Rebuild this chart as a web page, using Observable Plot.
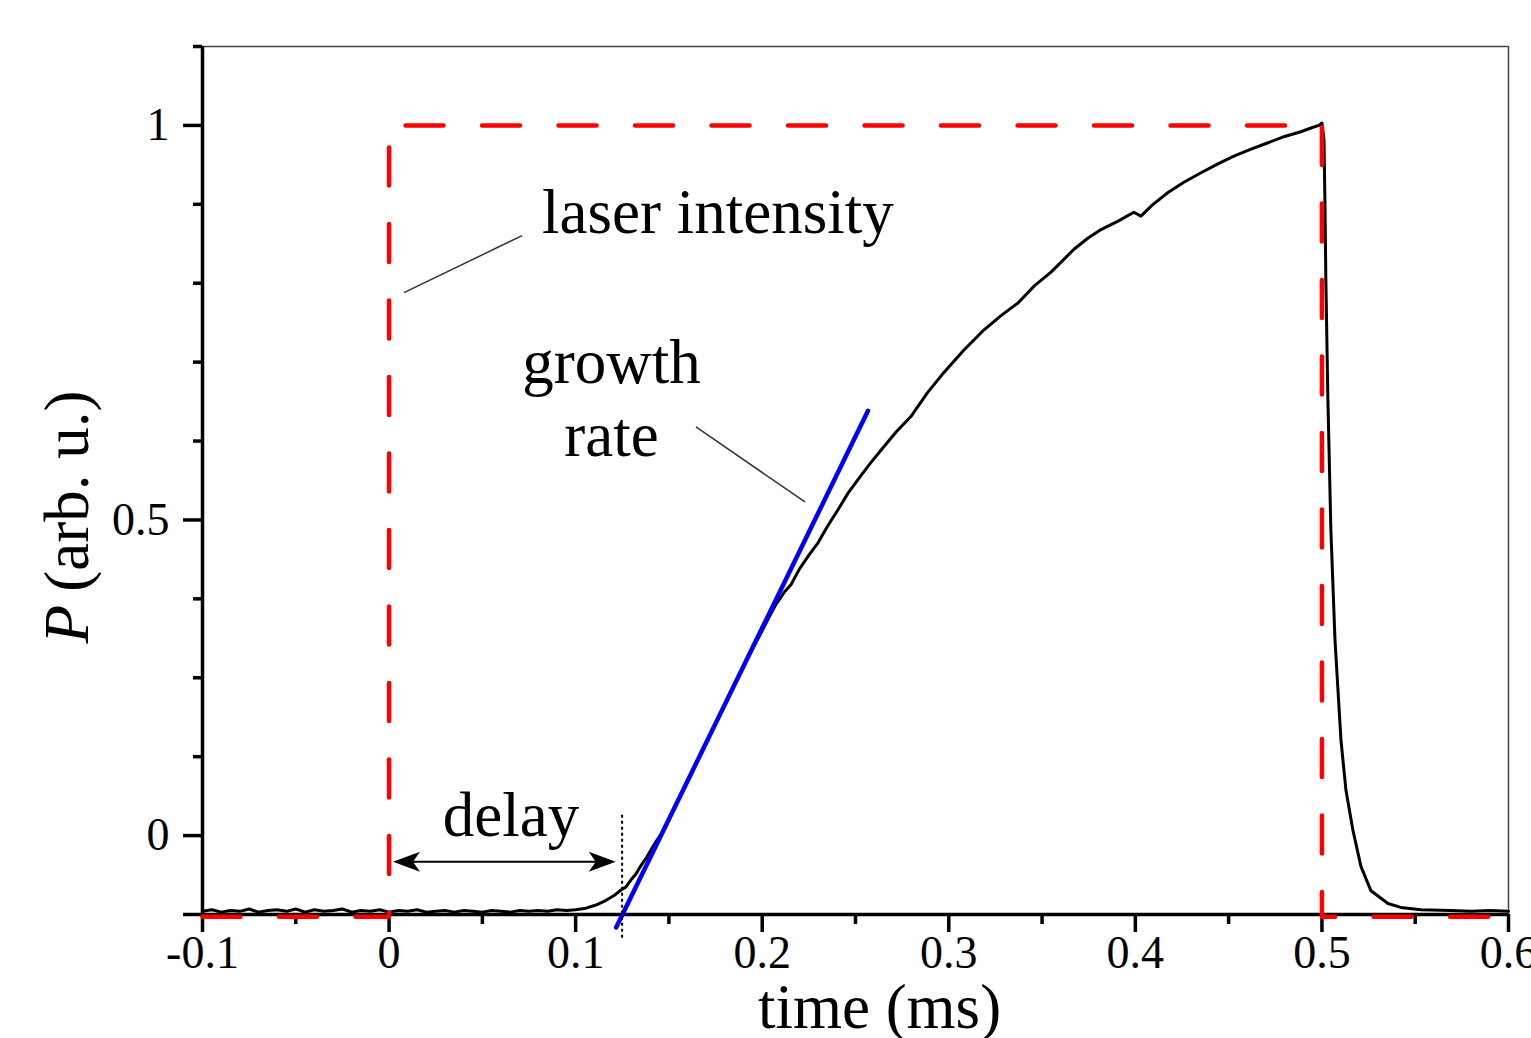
<!DOCTYPE html>
<html><head><meta charset="utf-8">
<script src="https://cdn.jsdelivr.net/npm/d3@7"></script>
<script src="https://cdn.jsdelivr.net/npm/@observablehq/plot@0.6"></script>
<style>body{margin:0;background:#fff;overflow:hidden}</style>
</head><body><div id="chart"></div>
<script>
// ---- data ----
const timeMs = [
  -0.100,-0.095,-0.090,-0.085,-0.080,-0.075,-0.070,-0.065,-0.060,-0.055,
  -0.050,-0.045,-0.040,-0.035,-0.030,-0.025,-0.020,-0.015,-0.010,-0.005,
   0.000, 0.005, 0.010, 0.015, 0.020, 0.025, 0.030, 0.035, 0.040, 0.045,
   0.050, 0.055, 0.060, 0.065, 0.070, 0.075, 0.080, 0.085, 0.090, 0.095,
   0.100, 0.1056,0.1109,0.1163,0.1206,0.1243,0.1270,0.1297,0.1325,0.1350,
   0.1377,0.1404,0.1430,0.1458,0.1510,0.1565,0.1620,0.1672,0.1730,0.1779,
   0.1830,0.1886,0.1940,0.1994,0.2035,0.2074,0.2120,0.2154,0.2200,0.2252,
   0.2299,0.2350,0.2406,0.2460,0.2513,0.2580,0.2653,0.2720,0.2797,0.2885,
   0.2974,0.3080,0.3189,0.3280,0.3371,0.3460,0.3548,0.3671,0.3745,0.3816,
   0.3910,0.3992,0.4030,0.4090,0.4175,0.4260,0.4352,0.4440,0.4528,0.4620,
   0.4711,0.4800,0.4887,0.4945,0.4984,0.5000,0.5011,0.5016,0.5021,0.5032,
   0.5048,0.5070,0.5102,0.5129,0.5166,0.5209,0.5263,0.5354,0.5423,0.5531,
   0.5691,0.5800,0.5900,0.6000
];
const signal = [
  0.004,0.006,0.003,0.005,0.004,0.007,0.003,0.005,0.006,0.004,
  0.007,0.003,0.006,0.004,0.005,0.007,0.003,0.005,0.004,0.006,
  0.003,0.005,0.004,0.006,0.003,0.004,0.005,0.003,0.005,0.004,
  0.003,0.005,0.004,0.003,0.005,0.004,0.005,0.004,0.006,0.005,
  0.006,0.008,0.012,0.018,0.024,0.031,0.035,0.044,0.052,0.062,
  0.071,0.082,0.092,0.102,0.126,0.153,0.178,0.205,0.232,0.256,
  0.281,0.307,0.333,0.357,0.376,0.393,0.409,0.418,0.438,0.456,
  0.471,0.492,0.513,0.534,0.551,0.572,0.593,0.612,0.631,0.661,
  0.687,0.715,0.741,0.759,0.775,0.797,0.814,0.843,0.857,0.868,
  0.879,0.890,0.885,0.899,0.915,0.928,0.940,0.951,0.961,0.970,
  0.978,0.986,0.992,0.997,1.000,1.003,0.982,0.906,0.805,0.652,
  0.487,0.348,0.221,0.157,0.107,0.061,0.030,0.014,0.009,0.006,
  0.005,0.004,0.005,0.004
];
const laserTime = [-0.1, 0, 0, 0.5, 0.5, 0.6];
const laserLevel = [-0.003, -0.003, 1, 1, -0.003, -0.003];
const fitTime = [0.1217, 0.2567];
const fitLevel = [-0.0165, 0.6383];
const delayEnd = 0.1249;

const xMajor = [-0.1, 0, 0.1, 0.2, 0.3, 0.4, 0.5, 0.6];
const xLabels = ["-0.1", "0", "0.1", "0.2", "0.3", "0.4", "0.5", "0.6"];
const xMinor = [-0.05, 0.05, 0.15, 0.25, 0.35, 0.45, 0.55];
const yMajor = [0, 0.1, 0.5, 1];
const yLabels = ["", "0", "0.5", "1"];
const yMinor = [0.2, 0.3, 0.4, 0.6, 0.7, 0.8, 0.9, 1.1];

// ---- tables for the library ----
const trace = timeMs.map((t, i) => ({t, p: signal[i]}));
const laser = laserTime.map((t, i) => ({t, p: laserLevel[i]}));
const fit = fitTime.map((t, i) => ({t, p: fitLevel[i]}));

const stealthRight = {draw(c) { c.moveTo(0, 0); c.lineTo(-27, -10); c.lineTo(-20, 0); c.lineTo(-27, 10); c.closePath(); }};
const stealthLeft  = {draw(c) { c.moveTo(0, 0); c.lineTo(27, -10); c.lineTo(20, 0); c.lineTo(27, 10); c.closePath(); }};

const serif = "Liberation Serif, Times New Roman, serif";
const big = 63;

const chart = Plot.plot({
  width: 1531,
  height: 1038,
  marginLeft: 202,
  marginRight: 23,
  marginTop: 46,
  marginBottom: 124,
  style: {fontFamily: serif, fontSize: "46px", color: "black", background: "white"},
  x: {domain: [-0.1, 0.6]},
  y: {domain: [0, 1.1]},
  marks: [
    // frame
    Plot.ruleY([1.1], {stroke: "#444", strokeWidth: 1.5}),
    Plot.ruleX([0.6], {stroke: "#444", strokeWidth: 1.5}),
    // axes
    Plot.axisX({ticks: xMajor, tickSize: 18, tickPadding: 3, strokeWidth: 3.5, fontSize: 46,
      tickFormat: d => xLabels[xMajor.indexOf(d)], label: null}),
    Plot.axisX({ticks: xMinor, tickSize: 10, strokeWidth: 3.5, tickFormat: () => "", label: null}),
    Plot.axisY({ticks: yMajor, tickSize: 19, tickPadding: 14, strokeWidth: 3.5, fontSize: 46,
      tickFormat: d => yLabels[yMajor.indexOf(d)], label: null}),
    Plot.axisY({ticks: yMinor, tickSize: 9, strokeWidth: 3.5, tickFormat: () => "", label: null}),
    Plot.ruleX([-0.1], {strokeWidth: 3.5}),
    Plot.ruleY([0], {strokeWidth: 3.5}),
    // signal
    Plot.line(trace, {x: "t", y: "p", stroke: "black", strokeWidth: 3, strokeLinejoin: "round"}),
    // laser pulse
    Plot.line(laser, {x: "t", y: "p", stroke: "#ff0000", strokeWidth: 4.5, strokeDasharray: "38,38.5"}),
    // growth-rate fit
    Plot.line(fit, {x: "t", y: "p", stroke: "#0000ff", strokeWidth: 4.5}),
    // delay marker
    Plot.ruleX([delayEnd], {y1: -0.030, y2: 0.128, stroke: "black", strokeWidth: 2, strokeDasharray: "3,3"}),
    Plot.ruleY([0.067], {x1: 0.006, x2: 0.117, stroke: "black", strokeWidth: 2}),
    Plot.dot([{t: 0.1215, p: 0.067}], {x: "t", y: "p", symbol: stealthRight, fill: "black", stroke: null}),
    Plot.dot([{t: 0.0021, p: 0.067}], {x: "t", y: "p", symbol: stealthLeft, fill: "black", stroke: null}),
    // leader lines
    Plot.link([{x1: 0.0713, y1: 0.8604, x2: 0.0080, y2: 0.7880}], {x1: "x1", y1: "y1", x2: "x2", y2: "y2", stroke: "#333", strokeWidth: 1.5}),
    Plot.link([{x1: 0.1645, y1: 0.6180, x2: 0.2229, y2: 0.5228}], {x1: "x1", y1: "y1", x2: "x2", y2: "y2", stroke: "#333", strokeWidth: 1.5}),
    // annotations
    Plot.text(["laser intensity"], {x: 0.0820, y: 0.8642, text: d => d, textAnchor: "start", lineAnchor: "bottom", fontSize: big, fill: "black"}),
    Plot.text(["growth\nrate"], {x: 0.1192, y: 0.5812, text: d => d, textAnchor: "middle", lineAnchor: "bottom", lineHeight: 1.16, fontSize: big, fill: "black"}),
    Plot.text(["delay"], {x: 0.0654, y: 0.0990, text: d => d, textAnchor: "middle", lineAnchor: "bottom", fontSize: big, fill: "black"}),
    // axis titles
    Plot.text(["time (ms)"], {frameAnchor: "bottom", dx: 24, dy: 113, text: d => d, textAnchor: "middle", lineAnchor: "bottom", fontSize: big, fill: "black"}),
    Plot.text(["P"], {frameAnchor: "left", dx: -115, dy: 163, rotate: -90, text: d => d, textAnchor: "start", lineAnchor: "bottom", fontSize: big, fontStyle: "italic", fill: "black"}),
    Plot.text(["(arb. u.)"], {frameAnchor: "left", dx: -115, dy: -90, rotate: -90, text: d => d, textAnchor: "end", lineAnchor: "bottom", fontSize: big, fill: "black"})
  ]
});
document.getElementById("chart").appendChild(chart);
</script></body></html>
